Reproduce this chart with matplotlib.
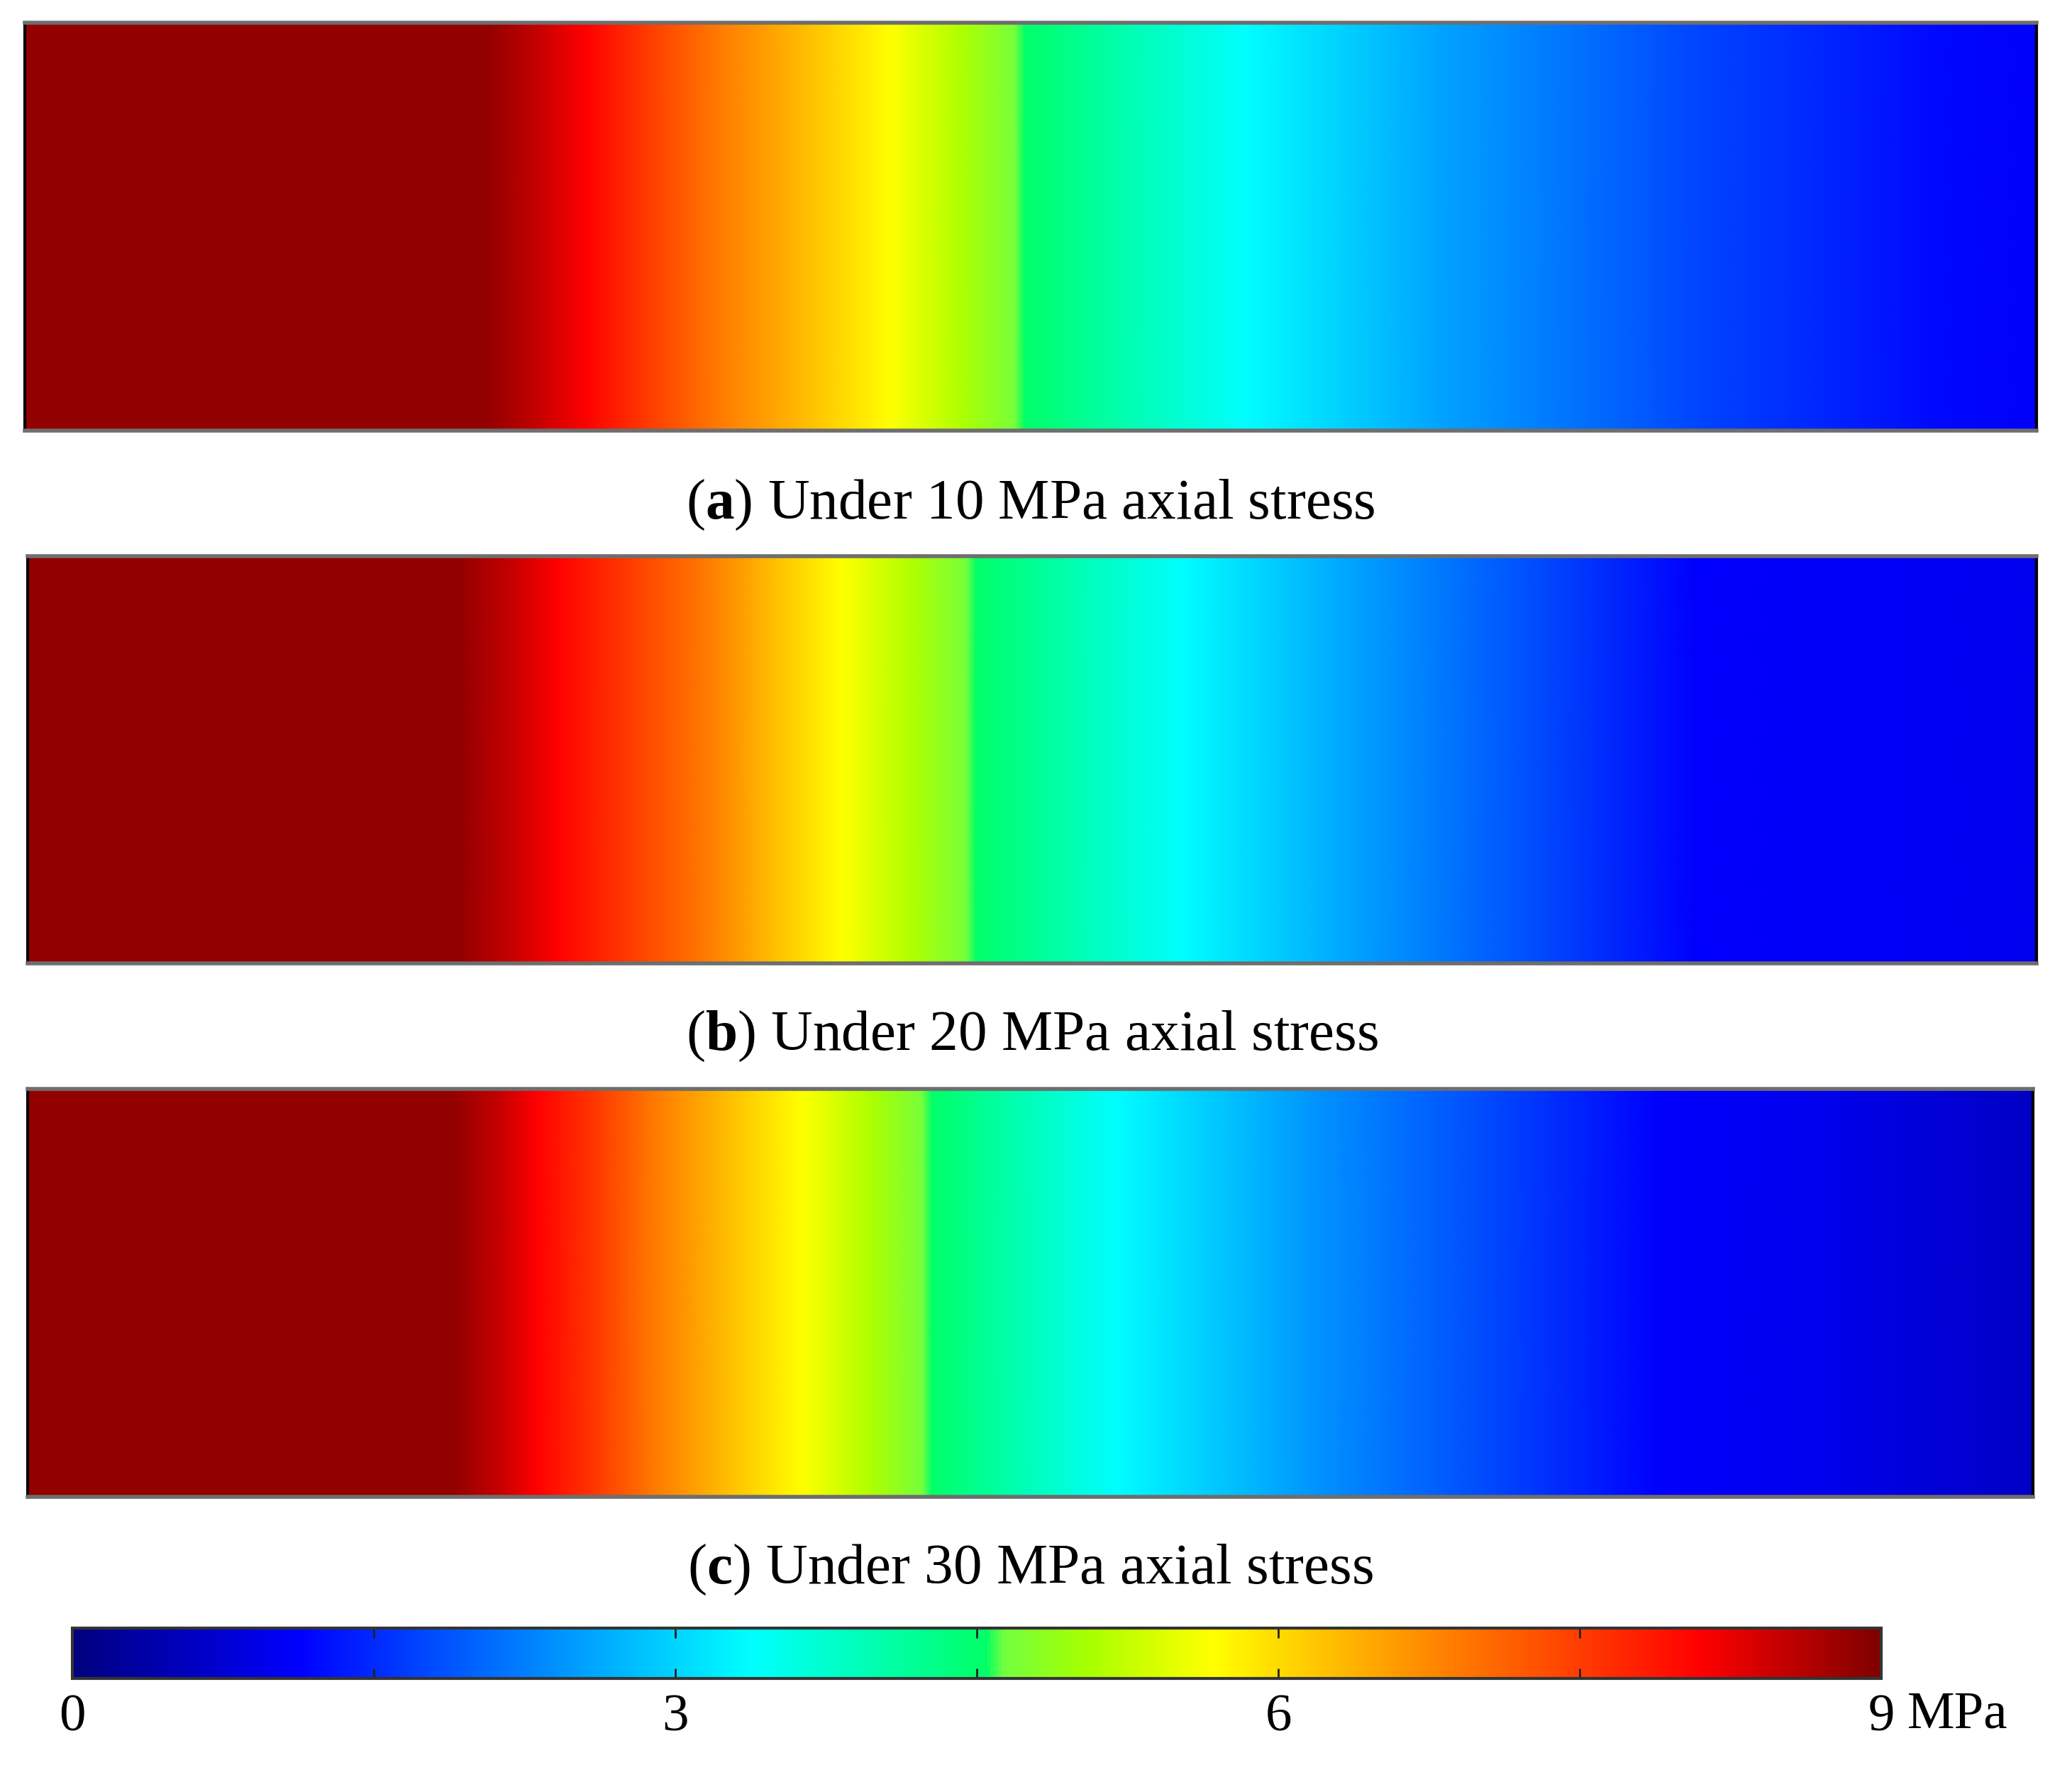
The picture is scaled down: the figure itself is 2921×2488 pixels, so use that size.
import numpy as np
import matplotlib
matplotlib.use('Agg')
from matplotlib import pyplot as plt
from matplotlib.colors import LinearSegmentedColormap

plt.rcParams['font.family'] = ['Liberation Serif', 'DejaVu Serif']
plt.rcParams['mathtext.fontset'] = 'custom'
plt.rcParams['mathtext.rm'] = 'Liberation Serif'
plt.rcParams['mathtext.bf'] = 'Liberation Serif:bold'

# position along the specimen (fraction of length) and stress (MPa)
pos_a = [0.000, 0.230, 0.255, 0.279, 0.310, 0.344, 0.390, 0.430, 0.465, 0.492, 0.497, 0.550, 0.607, 0.700, 0.830, 0.950, 1.000]
stress_a = [8.85, 8.85, 8.50, 8.10, 7.50, 6.90, 6.25, 5.67, 5.10, 4.66, 4.52, 3.95, 3.37, 2.60, 1.75, 1.20, 1.10]

pos_b = [0.000, 0.215, 0.240, 0.263, 0.300, 0.337, 0.372, 0.405, 0.440, 0.467, 0.472, 0.522, 0.575, 0.660, 0.830, 0.950, 1.000]
stress_b = [8.85, 8.85, 8.50, 8.10, 7.50, 6.90, 6.25, 5.67, 5.10, 4.66, 4.52, 3.95, 3.37, 2.55, 1.12, 1.05, 1.00]

pos_c = [0.000, 0.212, 0.235, 0.254, 0.285, 0.312, 0.350, 0.386, 0.420, 0.446, 0.451, 0.495, 0.543, 0.640, 0.813, 0.900, 1.000]
stress_c = [8.85, 8.85, 8.50, 8.10, 7.50, 6.90, 6.25, 5.67, 5.10, 4.66, 4.52, 3.95, 3.37, 2.45, 1.12, 0.95, 0.63]

panel_letters = ['a', 'b', 'c']
axial_loads = [10, 20, 30]
cbar_ticks = [0, 3, 6, 9]
cbar_minor = [1.5, 4.5, 7.5]

# jet-like map with the sharp step near the green
stops = [(0.0, (0.0, 0.0, 0.5)), (0.125, (0.0, 0.0, 1.0)), (0.375, (0.0, 1.0, 1.0)),
         (0.505, (0.0, 1.0, 0.40)), (0.515, (0.45, 1.0, 0.25)), (0.56, (0.65, 1.0, 0.0)),
         (0.63, (1.0, 1.0, 0.0)), (0.76, (1.0, 0.5, 0.0)), (0.90, (1.0, 0.0, 0.0)),
         (1.0, (0.5, 0.0, 0.0))]
cmap = LinearSegmentedColormap.from_list('stress', stops, N=512)

fig = plt.figure(figsize=(29.21, 24.88), dpi=100)

panels = [(pos_a, stress_a), (pos_b, stress_b), (pos_c, stress_c)]
boxes = [[0.012, 0.756, 0.971, 0.231],
         [0.0135, 0.454, 0.9695, 0.231],
         [0.0135, 0.152, 0.9675, 0.231]]
cap_y = [0.7138, 0.4128, 0.1108]

for (pos, s), box, cy, letter, load in zip(panels, boxes, cap_y, panel_letters, axial_loads):
    ax = fig.add_axes(box)
    pos = np.asarray(pos)
    s = np.asarray(s)
    X = np.vstack([pos, pos])
    Y = np.vstack([np.zeros_like(pos), np.ones_like(pos)])
    C = np.vstack([s, s])
    mesh = ax.pcolormesh(X, Y, C, shading='gouraud', cmap=cmap, vmin=0, vmax=9)
    ax.set_xlim(0, 1)
    ax.set_ylim(0, 1)
    ax.set_xticks([])
    ax.set_yticks([])
    for side in ['left', 'right']:
        ax.spines[side].set_color('black')
        ax.spines[side].set_linewidth(3)
    for side in ['top', 'bottom']:
        ax.spines[side].set_color('#6e6e6e')
        ax.spines[side].set_linewidth(4)
    fig.text(box[0] + box[2] / 2, cy, '(' + r'$\mathbf{' + letter + '}$' + ') Under %d MPa axial stress' % load,
             ha='center', va='center', fontsize=58.5)

cax = fig.add_axes([0.035, 0.049, 0.873, 0.0286])
cb = fig.colorbar(mesh, cax=cax, orientation='horizontal', ticks=cbar_ticks)
cb.set_ticks(cbar_minor, minor=True)
cb.outline.set_edgecolor('#333333')
cb.outline.set_linewidth(3)
cax.tick_params(which='both', direction='in', top=True, bottom=True, length=10, width=2, color='#222222')
cax.tick_params(which='major', labelsize=54, pad=16)
cax.text(1.0145, -0.73, 'MPa', transform=cax.transAxes, ha='left', va='center', fontsize=54)

fig.savefig('out.png', dpi=100, facecolor='white')
